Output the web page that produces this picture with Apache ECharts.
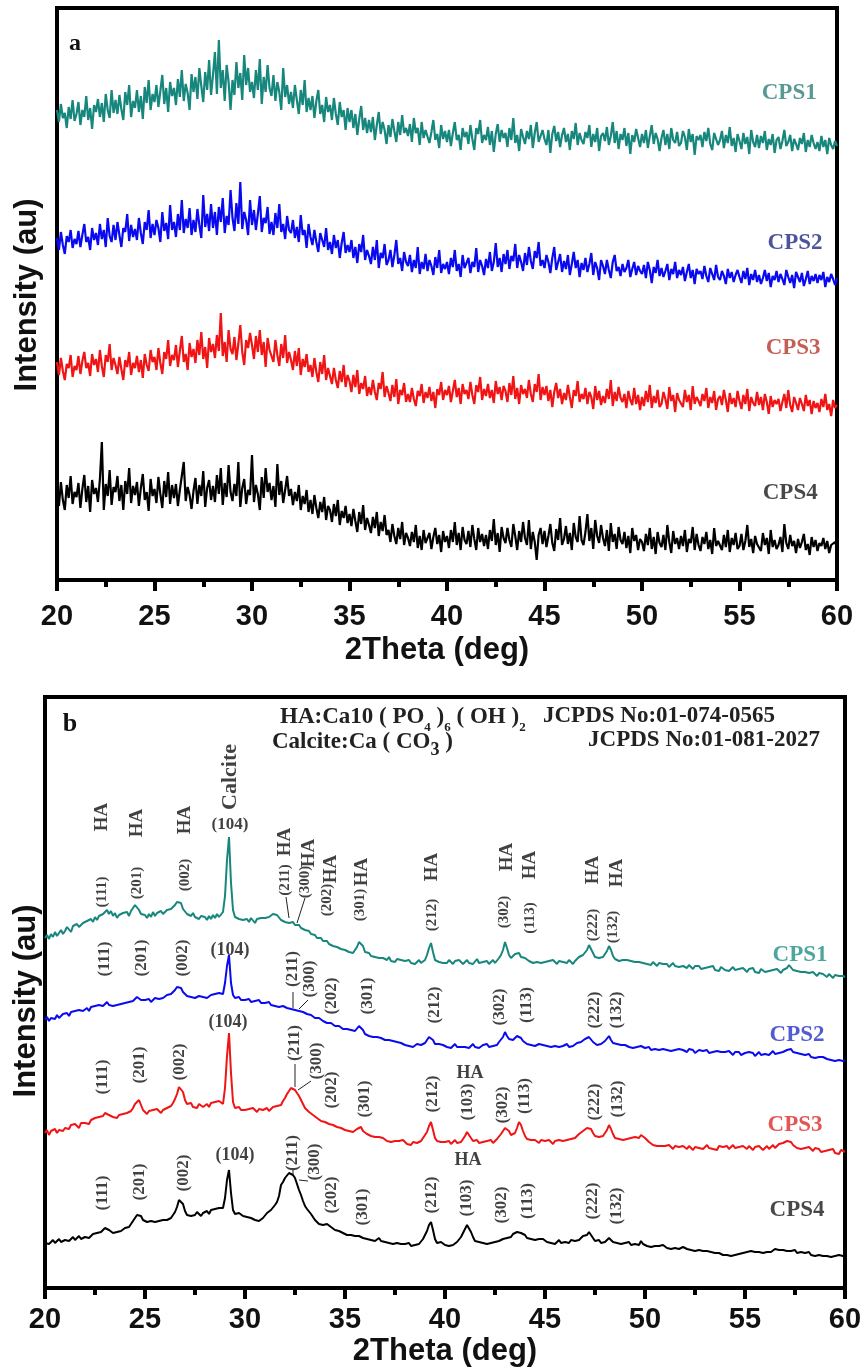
<!DOCTYPE html>
<html><head><meta charset="utf-8">
<script src="https://cdn.jsdelivr.net/npm/echarts@6/dist/echarts.min.js"></script>
<style>html,body{margin:0;padding:0;background:#fff}#c{width:860px;height:1370px}</style>
</head><body><div id="c"></div>
<script>
// sampling of the 2Theta scans (deg)
const X_START = 20, X_STEP = 0.1;
const xTickValues = [20, 25, 30, 35, 40, 45, 50, 55, 60];

// ---------- Panel a (intensity, a.u.) ----------
const a_CPS1 = [
470,458,476,462,467,452,473,461,480,459,
466,478,455,470,463,484,460,472,451,475,
468,481,463,477,458,486,470,462,490,467,
480,466,485,471,460,488,475,495,463,479,
472,490,468,484,461,493,477,500,470,486,
478,495,473,489,505,476,492,468,498,484,
492,475,501,483,510,479,496,487,470,506,
488,503,481,512,494,478,508,490,520,485,
505,528,486,540,492,510,479,515,498,470,
500,485,518,492,507,480,525,495,512,488,
498,482,510,490,521,476,503,488,515,492,
484,505,479,498,488,470,512,483,495,476,
488,472,495,480,466,490,475,500,468,482,
470,484,462,479,490,466,475,458,483,468,
475,460,482,466,455,478,463,470,450,472,
458,470,452,466,445,461,474,450,462,447,
460,448,463,440,455,468,446,458,450,436,
455,443,461,449,438,458,445,465,447,452,
444,456,438,462,447,452,435,458,442,450,
452,437,448,460,440,446,432,455,441,449,
438,450,434,447,458,440,445,430,452,443,
448,436,455,441,430,452,446,460,437,445,
440,453,435,449,428,446,456,438,450,442,
447,433,452,440,462,437,445,429,451,443,
436,449,441,455,432,447,458,438,444,450,
441,435,450,427,446,454,439,448,433,445,
452,438,446,430,449,441,457,435,447,440,
436,448,442,455,433,446,438,452,429,444,
447,439,453,435,444,458,437,449,431,446,
440,452,434,447,426,445,438,451,442,433,
446,437,450,432,444,455,436,447,441,429,
442,450,435,446,431,452,440,437,448,434,
437,449,443,430,451,438,446,425,444,440,
445,433,448,439,452,436,430,447,441,435,
440,449,432,445,437,453,434,442,428,446,
439,431,447,436,443,426,450,438,433,445,
432,444,437,449,430,441,435,446,427,440,
443,431,439,450,434,438,445,429,441,436,
430,442,436,447,428,440,433,445,437,431,
438,429,444,433,440,426,442,435,431,439,
434];
const a_CPS2 = [
342,330,348,335,326,344,338,350,332,341,
336,349,333,345,356,338,343,330,352,340,
347,335,356,341,350,333,362,344,338,355,
340,358,345,333,352,348,366,339,355,343,
351,340,362,347,336,358,350,370,342,356,
345,360,352,338,368,349,357,341,375,350,
358,343,366,350,380,347,361,352,372,345,
360,348,371,355,342,385,353,366,349,376,
352,368,345,373,358,382,347,364,355,390,
362,349,377,356,398,351,368,360,345,380,
355,370,350,366,384,348,362,357,373,346,
358,345,367,352,376,348,356,341,364,350,
347,360,342,353,338,365,345,350,332,356,
343,335,350,338,328,347,340,333,352,330,
338,326,345,332,340,322,337,348,327,335,
328,340,322,333,317,336,328,345,320,330,
324,316,333,320,340,312,327,322,336,315,
320,330,313,325,340,316,322,309,328,318,
314,325,308,320,312,333,306,318,311,326,
309,320,314,305,323,312,330,307,316,311,
318,306,322,313,330,309,316,303,325,312,
310,322,307,318,313,332,308,320,314,305,
321,312,328,309,318,337,313,322,308,326,
316,330,311,324,319,336,312,325,318,309,
327,315,333,319,311,329,322,338,314,320,
312,325,318,307,322,333,310,318,326,308,
319,311,325,305,316,328,312,320,303,317,
310,322,308,316,327,305,318,312,300,320,
314,306,320,310,302,318,325,309,313,304,
316,308,312,320,303,311,318,305,314,309,
306,315,302,318,310,297,313,307,320,304,
312,303,309,316,300,311,306,318,302,310,
305,313,299,308,316,302,310,296,311,306,
309,301,314,304,298,312,306,300,315,303,
300,309,304,296,311,302,308,298,305,310,
303,297,309,301,312,295,306,300,310,298,
305,296,302,310,299,307,293,304,300,309,
298,306,301,295,310,303,297,305,292,308,
303,298,307,294,301,309,296,304,299,306,
297,305,300,308,293,303,298,306,301,295,
302];
const a_CPS3 = [
218,205,222,209,200,216,212,225,203,214,
210,224,206,219,228,212,217,204,226,215,
221,208,230,214,203,225,218,236,210,222,
215,206,223,211,200,220,213,228,205,217,
212,224,208,220,202,226,215,209,230,218,
223,210,232,217,206,228,221,240,214,225,
220,235,213,229,244,218,226,210,237,223,
231,217,240,225,248,221,233,212,242,228,
236,222,245,229,267,224,238,218,250,231,
226,243,220,236,255,228,215,240,232,247,
235,221,244,228,250,225,238,213,242,230,
232,218,240,225,214,236,222,245,217,228,
220,210,229,214,232,205,221,213,226,208,
215,203,222,208,198,218,206,225,200,212,
204,196,212,200,192,209,198,215,193,205,
199,188,205,193,210,186,197,191,204,184,
193,185,200,188,180,197,191,208,183,194,
187,179,195,183,201,176,190,185,197,178,
186,178,192,181,174,189,184,196,177,188,
182,193,179,188,172,191,185,198,180,190,
185,194,178,189,200,183,192,176,196,186,
190,181,198,185,176,195,188,203,180,191,
184,196,182,190,177,199,186,193,180,194,
189,178,197,185,204,181,192,176,195,186,
191,182,200,186,178,196,188,206,180,193,
185,194,179,190,173,188,197,182,191,176,
187,180,195,183,172,190,184,199,178,186,
181,192,176,188,183,171,194,180,189,175,
184,177,191,181,200,174,188,179,193,182,
178,186,172,189,180,175,192,176,185,170,
183,174,189,178,195,172,184,177,190,173,
176,188,181,171,193,179,185,168,187,180,
182,173,190,178,185,170,194,176,183,179,
174,186,179,192,172,183,177,189,170,181,
184,175,190,180,168,187,176,182,173,189,
179,171,185,176,191,169,183,177,174,188,
175,183,170,186,178,166,184,173,180,176,
181,169,178,186,172,190,175,168,183,177,
170,182,176,169,185,174,180,166,179,172,
177,168,181,173,186,170,176,164,180,172,
175];
const a_CPS4 = [
90,74,98,80,70,95,82,104,76,88,
83,97,72,91,105,78,94,68,100,86,
92,78,101,138,70,96,84,110,75,93,
88,104,79,95,70,99,86,112,77,94,
85,98,74,92,106,80,88,69,101,84,
91,77,103,86,72,99,83,108,76,95,
82,96,74,90,104,118,79,93,85,71,
89,102,76,95,84,109,73,92,100,80,
94,78,105,86,112,75,97,83,115,88,
79,96,84,118,73,92,101,76,90,85,
125,78,95,86,70,103,82,112,88,97,
80,94,73,116,85,99,77,90,104,84,
91,75,88,79,95,70,84,76,90,68,
80,66,85,72,62,78,68,83,60,74,
70,58,76,64,80,55,69,62,74,57,
66,54,71,59,48,68,56,75,50,62,
55,47,63,52,68,44,58,49,65,45,
50,38,56,44,36,52,41,58,35,47,
42,34,48,38,55,32,44,30,50,37,
35,47,31,43,52,36,45,28,49,38,
44,32,50,38,58,35,47,30,53,40,
36,49,33,55,41,30,52,38,46,34,
45,31,50,39,61,35,47,28,53,42,
37,52,40,33,56,44,30,49,38,58,
42,35,60,31,48,38,20,45,52,36,
49,33,44,56,37,29,51,40,62,35,
41,54,36,47,30,57,43,38,64,40,
35,48,66,39,52,31,60,44,37,55,
42,34,50,29,57,38,46,31,53,40,
36,48,32,44,27,52,39,45,30,41,
38,29,46,35,52,31,43,26,48,37,
33,45,30,55,38,27,49,36,42,31,
44,34,50,28,41,37,53,30,46,35,
29,43,36,48,31,40,26,52,34,39,
37,30,45,33,50,28,42,35,47,31,
34,46,30,39,55,33,41,27,44,36,
38,29,47,35,42,26,50,33,40,31,
35,43,28,56,37,31,45,34,39,27,
41,32,38,46,30,36,25,43,33,40,
29,37,34,42,31,39,27,35,33,38,
32];

// ---------- Panel b (intensity, a.u.) ----------
const b_CPS1 = [
350,353,349,354,351,356,352,355,358,354,
357,361,359,356,362,360,364,361,359,365,
364,367,365,369,366,371,368,372,370,374,
376,378,374,377,372,375,370,373,371,375,
373,376,372,377,380,383,381,378,374,376,
373,370,374,371,376,372,375,373,377,374,
375,378,376,379,381,383,386,388,385,379,
377,374,376,372,375,371,373,369,372,370,
371,368,372,369,373,370,374,371,373,376,
392,428,451,405,378,371,372,369,371,368,
367,369,366,370,368,365,369,367,370,368,
370,368,371,373,374,376,373,371,368,369,
366,368,365,364,366,363,361,363,360,359,
358,356,357,354,352,353,350,349,350,347,
346,347,344,345,342,343,341,342,339,340,
338,339,336,337,335,338,341,346,348,342,
336,334,335,332,333,331,333,330,332,330,
330,328,331,327,329,326,329,327,328,326,
327,325,328,325,327,324,326,328,325,327,
328,333,340,345,336,328,329,326,328,325,
327,325,328,326,324,327,325,328,326,324,
326,328,325,327,324,326,329,325,327,326,
325,327,324,326,328,325,327,330,333,338,
346,340,333,330,331,334,336,335,331,329,
330,328,327,329,325,327,326,328,325,327,
326,324,327,325,328,326,324,327,325,326,
327,325,328,326,324,327,329,331,330,333,
335,338,343,341,335,331,329,330,328,331,
333,337,342,338,332,329,330,327,329,328,
330,328,329,327,329,326,328,326,327,325,
326,324,325,323,326,324,322,325,323,324,
322,324,321,323,325,322,324,321,323,322,
322,320,323,321,319,322,320,322,319,321,
320,318,321,319,322,318,320,317,321,319,
318,320,317,319,321,318,316,319,317,320,
318,316,319,317,320,316,318,315,319,317,
316,318,317,315,318,316,319,317,315,318,
318,320,323,321,318,316,317,315,316,314,
316,314,315,313,316,314,312,315,313,314,
313,311,314,312,310,313,311,312,310,312,
311];
const b_CPS2 = [
268,271,267,270,272,269,273,270,272,274,
273,275,272,276,274,277,275,278,276,277,
278,280,277,281,279,282,280,283,281,282,
284,286,283,285,282,284,283,285,284,286,
285,287,286,288,287,289,291,290,288,289,
288,287,289,286,288,290,288,289,291,290,
291,293,292,294,296,298,301,303,300,296,
294,292,293,291,292,290,291,292,290,291,
292,290,291,293,292,294,293,295,293,294,
305,322,333,305,293,290,289,291,288,289,
288,287,289,286,288,287,286,288,285,287,
285,284,286,283,284,282,283,281,283,282,
281,280,282,279,280,278,279,277,278,276,
275,274,272,273,271,270,269,270,268,267,
266,265,264,265,263,262,261,262,260,259,
258,259,257,258,256,257,259,262,263,258,
254,253,252,253,251,250,251,249,250,249,
248,247,248,246,247,245,246,244,245,244,
243,244,242,243,241,243,244,242,243,245,
245,248,251,253,248,244,242,244,242,243,
242,241,243,240,242,244,241,243,241,242,
241,243,240,242,244,241,243,240,242,243,
242,244,241,243,242,244,243,246,248,251,
256,252,249,247,248,250,252,253,250,247,
246,244,245,243,244,242,243,244,242,243,
243,242,244,241,243,242,244,241,243,242,
242,244,241,243,242,244,245,247,246,248,
249,250,251,249,246,244,243,245,244,246,
247,249,252,248,245,243,244,242,243,241,
243,242,241,243,240,242,241,240,242,241,
240,239,241,238,240,239,241,238,240,239,
239,238,240,237,239,238,236,239,237,238,
238,236,239,237,238,235,237,238,236,237,
236,238,235,237,236,234,237,235,236,234,
236,234,237,235,233,236,234,236,233,235,
235,233,236,234,235,232,234,236,233,235,
234,236,233,235,237,234,236,235,237,236,
237,238,240,239,236,234,235,233,234,232,
233,232,234,231,233,230,232,231,229,231,
230,229,231,228,230,227,229,228,230,227,
228];
const b_CPS3 = [
155,158,153,157,156,159,155,158,160,157,
160,162,159,163,161,164,162,160,165,163,
165,167,164,168,166,170,168,171,173,172,
175,176,173,174,171,172,170,173,171,174,
173,175,174,177,180,184,186,188,183,178,
176,174,177,175,178,176,179,177,175,178,
178,180,179,182,185,189,194,201,203,196,
188,184,182,185,181,183,180,184,182,181,
182,184,181,185,183,186,184,187,185,184,
200,232,255,215,186,180,179,181,178,180,
178,176,179,177,180,178,176,179,177,178,
178,180,177,179,181,180,182,184,183,187,
190,194,197,200,201,198,195,192,188,184,
180,178,176,175,173,171,170,169,167,168,
166,165,164,165,163,162,161,162,160,159,
158,159,157,158,156,158,159,161,161,157,
155,154,153,152,153,151,150,151,149,150,
148,147,149,146,148,147,145,147,146,148,
146,144,145,143,146,144,145,143,147,150,
150,156,162,166,158,150,147,148,146,147,
146,145,147,144,146,148,145,147,146,148,
152,156,154,150,147,146,148,145,147,146,
145,147,146,148,145,147,149,151,154,157,
160,161,157,153,152,155,160,166,163,157,
152,149,150,148,146,148,147,145,148,146,
147,145,148,146,144,147,145,148,146,147,
146,148,147,149,148,150,152,154,155,157,
158,160,161,159,155,152,150,151,149,152,
154,158,163,159,154,150,148,149,147,148,
147,149,148,150,149,151,152,150,153,152,
150,148,146,145,143,145,142,144,142,143,
142,140,143,141,139,142,140,141,139,142,
141,139,142,140,138,141,143,140,142,139,
141,143,140,142,139,141,138,142,140,141,
140,142,139,141,143,140,138,141,139,142,
141,139,142,140,138,141,139,142,140,138,
140,142,139,141,143,140,142,144,143,145,
146,147,148,146,143,141,140,142,139,141,
140,138,141,139,137,140,138,139,136,138,
137,135,138,136,139,135,137,134,138,136,
136];
const b_CPS4 = [
45,47,44,46,48,45,47,49,46,48,
48,50,47,49,51,48,50,52,49,51,
51,53,50,52,54,53,55,57,56,58,
60,61,58,57,55,57,56,58,57,59,
60,62,61,64,67,70,73,75,72,68,
67,66,64,67,65,66,64,67,65,68,
66,68,67,70,72,76,81,88,90,84,
77,73,75,72,74,73,76,74,72,75,
75,77,74,78,76,79,77,80,78,80,
90,108,118,95,78,74,72,75,73,72,
73,71,72,70,69,68,70,67,69,70,
72,75,74,78,80,83,86,92,103,106,
110,112,115,116,113,110,104,98,93,87,
82,79,77,74,71,68,66,64,65,63,
63,64,62,61,59,58,59,57,56,55,
54,53,52,53,51,52,50,52,51,50,
50,49,51,48,49,47,48,50,47,48,
46,47,45,46,44,46,45,47,44,45,
44,43,45,42,44,43,42,44,46,49,
50,57,63,66,58,49,45,44,46,44,
43,45,42,44,43,45,46,48,51,55,
59,63,61,56,51,47,45,46,44,45,
43,44,42,45,43,46,44,47,46,49,
51,50,52,51,54,53,56,58,55,57,
53,50,52,49,51,48,50,49,47,49,
47,46,48,45,47,44,46,48,45,47,
46,47,45,48,46,47,49,48,50,52,
51,53,56,54,50,47,46,48,45,47,
46,48,50,48,46,47,45,46,44,46,
45,44,46,43,45,44,46,43,47,44,
43,42,44,41,43,42,40,42,41,43,
41,40,42,39,41,40,42,39,40,41,
40,39,41,38,40,37,39,38,36,37,
36,37,35,36,34,35,33,35,34,33,
34,33,35,32,34,33,35,34,36,35,
35,36,34,37,35,36,38,36,37,35,
37,36,38,36,37,39,37,38,36,38,
38,37,39,37,36,38,35,37,36,35,
35,34,36,33,35,32,34,33,35,32,
33,32,34,31,33,32,30,33,31,32,
31];

// ---------- annotations (x in deg, y in a.u.) ----------
const sampleNames = ['CPS1', 'CPS2', 'CPS3', 'CPS4'];
const sampleLabelPosA = [[57.55, 487], [57.85, 337], [57.75, 232], [57.6, 87]];
const sampleLabelPosB = [[57.75, 333], [57.6, 253], [57.5, 163], [57.6, 78]];

const b1_hkl = [[22.85,396,'(111)'],[24.6,405,'(201)'],[27.0,413,'(002)'],[32.0,408,'(211)'],[33.0,406,'(300)'],[34.1,388,'(202)'],[35.75,383,'(301)'],[39.35,373,'(212)'],[42.95,376,'(302)'],[44.25,370,'(113)'],[47.4,363,'(222)'],[48.4,361,'(132)']];
const b1_HA = [[22.85,471,'HA'],[24.6,465,'HA'],[27.0,468,'HA'],[32.0,446,'HA'],[33.2,435,'HA'],[34.3,419,'HA'],[35.85,416,'HA'],[39.35,421,'HA'],[43.1,431,'HA'],[44.25,423,'HA'],[47.4,418,'HA'],[48.6,415,'HA']];
const b1_calcite = [[29.25,511,'Calcite']];
const b1_flat = [[29.25,463,'(104)']];

const b2_hkl = [[23.0,329,'(111)'],[24.85,330,'(201)'],[26.9,330,'(002)'],[32.4,319,'(211)'],[33.25,309,'(300)'],[34.35,292,'(202)'],[36.15,292,'(301)'],[39.5,283,'(212)'],[42.75,281,'(302)'],[44.1,283,'(113)'],[47.5,278,'(222)'],[48.6,278,'(132)']];
const b2_flat = [[29.25,338,'(104)']];

const b3_hkl = [[22.9,211,'(111)'],[24.75,223,'(201)'],[26.75,226,'(002)'],[32.5,245,'(211)'],[33.6,227,'(300)'],[34.35,198,'(202)'],[36.0,189,'(301)'],[39.4,194,'(212)'],[41.15,186,'(103)'],[42.9,183,'(302)'],[44.0,192,'(113)'],[47.5,186,'(222)'],[48.65,189,'(132)']];
const b3_flat = [[29.15,266,'(104)'],[41.25,215,'HA']];

const b4_hkl = [[22.9,95,'(111)'],[24.75,106,'(201)'],[26.95,115,'(002)'],[32.4,135,'(211)'],[33.5,126,'(300)'],[34.35,93,'(202)'],[35.9,81,'(301)'],[39.35,93,'(212)'],[41.1,90,'(103)'],[42.85,83,'(302)'],[44.15,87,'(113)'],[47.4,87,'(222)'],[48.6,82,'(132)']];
const b4_flat = [[29.5,133,'(104)'],[41.15,128,'HA']];

const leaders = [
  [[32.05,391],[32.2,370]], [[33.0,390],[32.6,365]],
  [[32.4,296],[32.4,280]], [[33.15,288],[32.7,279]],
  [[32.5,224],[32.5,201]], [[33.3,207],[32.65,198]],
  [[32.4,118],[32.4,113]], [[33.15,107],[32.7,108]]
];

// ---------- styles ----------
const lineColors = ['#17877d', '#0a0af0', '#f01414', '#000000'];
const labelColorsA = ['#2e8079', '#1f2a82', '#b5372c', '#1a1a1a'];
const labelColorsB = ['#219085', '#2633c8', '#dd2a2a', '#1a1a1a'];
const SANS = '"Liberation Sans", Arial, sans-serif';
const SERIF = '"Liberation Serif", "Times New Roman", serif';

function toPairs(arr) { return arr.map((v, i) => [+(X_START + i * X_STEP).toFixed(1), v]); }

const series = [];
[a_CPS1, a_CPS2, a_CPS3, a_CPS4].forEach((d, k) => series.push({
  type: 'line', xAxisIndex: 0, yAxisIndex: 0, data: toPairs(d), symbol: 'none',
  lineStyle: { color: lineColors[k], width: 2.2 }, animation: false, silent: true, z: 2
}));
[b_CPS1, b_CPS2, b_CPS3, b_CPS4].forEach((d, k) => series.push({
  type: 'line', xAxisIndex: 1, yAxisIndex: 1, data: toPairs(d), symbol: 'none',
  lineStyle: { color: lineColors[k], width: 2 }, animation: false, silent: true, z: 2
}));
leaders.forEach(seg => series.push({
  type: 'line', xAxisIndex: 1, yAxisIndex: 1, data: seg, symbol: 'none',
  lineStyle: { color: '#222', width: 1 }, animation: false, silent: true, z: 3
}));

function textSeries(axis, data, opt) {
  return {
    type: 'scatter', xAxisIndex: axis, yAxisIndex: axis, symbolSize: 1,
    itemStyle: { color: 'rgba(0,0,0,0)' }, animation: false, silent: true, z: 6,
    data: data.map(d => ({ value: [d[0], d[1]], label: { formatter: d[2], color: d[3] || opt.color } })),
    label: {
      show: true, position: 'inside', rotate: opt.rotate || 0, align: 'center', verticalAlign: 'middle',
      fontFamily: opt.family || SERIF, fontWeight: 'bold', fontSize: opt.size, color: opt.color || '#111'
    }
  };
}
series.push(textSeries(0, sampleNames.map((n, i) => [sampleLabelPosA[i][0], sampleLabelPosA[i][1], n, labelColorsA[i]]), { size: 23 }));
series.push(textSeries(1, sampleNames.map((n, i) => [sampleLabelPosB[i][0], sampleLabelPosB[i][1], n, labelColorsB[i]]), { size: 23 }));
series.push(textSeries(1, b1_hkl, { size: 15, rotate: 90 }));
series.push(textSeries(1, b1_HA, { size: 19, rotate: 90 }));
series.push(textSeries(1, b1_calcite, { size: 22, rotate: 90 }));
series.push(textSeries(1, b1_flat, { size: 17 }));
[b2_hkl, b3_hkl, b4_hkl].forEach(d => series.push(textSeries(1, d, { size: 17, rotate: 90 })));
[b2_flat, b3_flat, b4_flat].forEach(d => series.push(textSeries(1, d, { size: 18 })));

function xAxisCfg(grid, labelMargin, nameGap, namePad) {
  return {
    gridIndex: grid, type: 'value', min: 20, max: 60, interval: 5,
    axisLine: { show: true, onZero: false, lineStyle: { color: '#000', width: 4 } },
    axisTick: { show: true, inside: false, length: 11, lineStyle: { color: '#000', width: 4 } },
    minorTick: { show: true, splitNumber: 2, length: 7, lineStyle: { color: '#000', width: 4 } },
    splitLine: { show: false }, minorSplitLine: { show: false },
    axisLabel: { margin: labelMargin, fontSize: 29, fontWeight: 'bold', fontFamily: SANS, color: '#111',
      showMinLabel: true, showMaxLabel: true, hideOverlap: false,
      customValues: xTickValues },
    name: '2Theta (deg)', nameLocation: 'middle', nameGap: nameGap,
    nameTextStyle: { fontSize: 31, fontWeight: 'bold', fontFamily: SANS, color: '#111', padding: namePad }
  };
}

const chart = echarts.init(document.getElementById('c'), null, { renderer: 'canvas' });
chart.setOption({
  backgroundColor: '#fff',
  animation: false,
  grid: [
    { left: 57, top: 8, width: 780, height: 572, show: true, borderColor: '#000', borderWidth: 4, containLabel: false, outerBoundsMode: 'none' },
    { left: 45, top: 697, width: 800, height: 591, show: true, borderColor: '#000', borderWidth: 4, containLabel: false, outerBoundsMode: 'none' }
  ],
  xAxis: [xAxisCfg(0, 22, 55, [0, 20, 0, 0]), xAxisCfg(1, 17, 48, [0, 0, 0, 0])],
  yAxis: [
    { gridIndex: 0, type: 'value', min: 0, max: 572, show: false },
    { gridIndex: 1, type: 'value', min: 0, max: 591, show: false }
  ],
  graphic: [
    { type: 'text', x: 27, y: 295, rotation: Math.PI / 2, style: { text: 'Intensity (au)', font: 'bold 31px ' + SANS, fill: '#111', align: 'center', verticalAlign: 'middle' } },
    { type: 'text', x: 26, y: 1001, rotation: Math.PI / 2, style: { text: 'Intensity (au)', font: 'bold 31px ' + SANS, fill: '#111', align: 'center', verticalAlign: 'middle' } },
    { type: 'text', x: 75, y: 44, style: { text: 'a', font: 'bold 24px ' + SERIF, fill: '#111', align: 'center', verticalAlign: 'middle' } },
    { type: 'text', x: 70, y: 724, style: { text: 'b', font: 'bold 26px ' + SERIF, fill: '#111', align: 'center', verticalAlign: 'middle' } },
    { type: 'text', x: 280, y: 717, style: {
        text: '{m|HA:Ca10 ( PO}{s|4}{m| )}{s|6}{m| ( OH )}{s|2}',
        align: 'left', verticalAlign: 'middle', fill: '#222',
        rich: {
          m: { fontFamily: SERIF, fontWeight: 'bold', fontSize: 23, lineHeight: 34, verticalAlign: 'middle', fill: '#222' },
          s: { fontFamily: SERIF, fontWeight: 'bold', fontSize: 13, lineHeight: 13, verticalAlign: 'bottom', fill: '#222' }
        } } },
    { type: 'text', x: 543, y: 716, style: { text: 'JCPDS No:01-074-0565', font: 'bold 23px ' + SERIF, fill: '#222', align: 'left', verticalAlign: 'middle' } },
    { type: 'text', x: 272, y: 742, style: {
        text: '{m|Calcite:Ca ( CO}{s|3}{m| )}',
        align: 'left', verticalAlign: 'middle', fill: '#222',
        rich: {
          m: { fontFamily: SERIF, fontWeight: 'bold', fontSize: 23, lineHeight: 34, verticalAlign: 'middle', fill: '#222' },
          s: { fontFamily: SERIF, fontWeight: 'bold', fontSize: 18, lineHeight: 16, verticalAlign: 'bottom', fill: '#222' }
        } } },
    { type: 'text', x: 820, y: 740, style: { text: 'JCPDS No:01-081-2027', font: 'bold 23px ' + SERIF, fill: '#222', align: 'right', verticalAlign: 'middle' } }
  ],
  series: series
});
</script>
</body></html>
